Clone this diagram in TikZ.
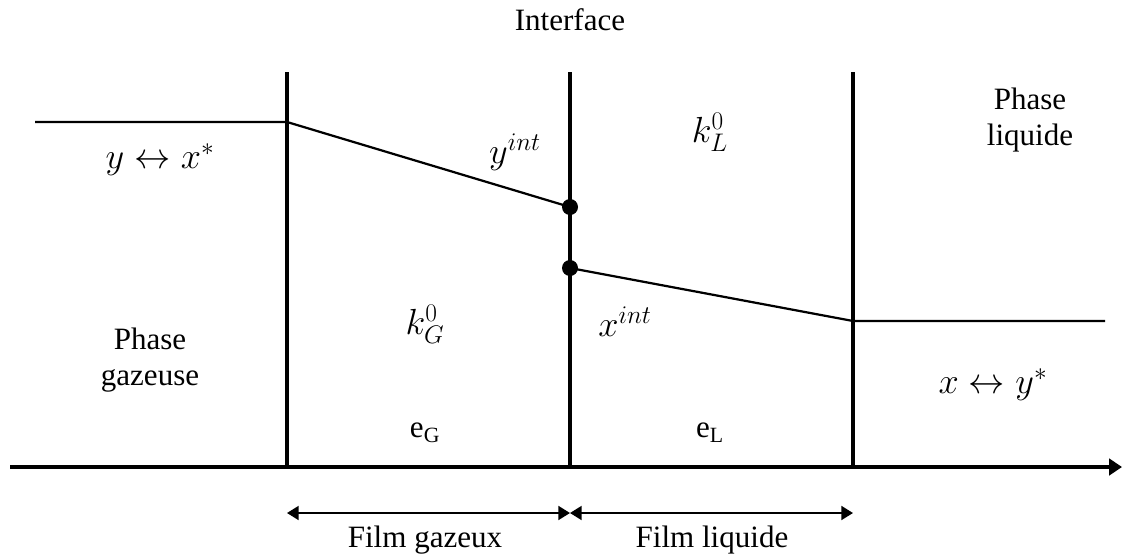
\documentclass[tikz,border=0pt]{standalone}
\usepackage{fix-cm}
\usepackage{fontspec}
\setmainfont{Liberation Serif}
\usetikzlibrary{arrows.meta}

\begin{document}
\begin{tikzpicture}[x=0.03cm,y=-0.03cm,
  font=\fontsize{26.5}{31}\selectfont,
  wall/.style={line width=3.4pt},
  prof/.style={line width=1.9pt},
  film/.style={line width=1.5pt,
    {Triangle[length=10pt,width=12pt]}-{Triangle[length=10pt,width=12pt]}},
  lbl/.style={inner sep=0pt, align=center},
  mth/.style={lbl, font=\fontsize{31}{36}\selectfont}]

\useasboundingbox (0,0) rectangle (1134,553);

% positions of the walls and axis
\def\xG{287}
\def\xI{570}
\def\xL{853}
\def\yax{467}
\def\ytop{72}

%---------------------------------------
% Axis and walls
%---------------------------------------
\coordinate (ax0) at (10,\yax);
\coordinate (ax1) at (1122,\yax);
\draw[wall, -{Triangle[length=11pt,width=14pt]}] (ax0) -- (ax1);

\foreach \x/\n in {\xG/G, \xI/I, \xL/L}{
  \coordinate (top\n) at (\x,\ytop);
  \coordinate (bot\n) at (\x,\yax);
  \draw[wall] (top\n) -- (bot\n);
}

%---------------------------------------
% Concentration profiles
%---------------------------------------
\coordinate (g0) at (35,122);
\coordinate (g1) at (\xG,122);
\coordinate (yint) at (\xI,207);
\coordinate (xint) at (\xI,268);
\coordinate (l1) at (\xL,321);
\coordinate (l0) at (1105,321);

\draw[prof] (g0) -- (g1) -- (yint);
\draw[prof] (xint) -- (l1) -- (l0);
\fill (yint) circle (8);
\fill (xint) circle (8);

%---------------------------------------
% Labels
%---------------------------------------
\node[lbl] (interface) at (\xI,20) {Interface};
\node[lbl] (liq) at (1030,120) {Phase\\liquide};
\node[lbl] (gaz) at (150,360) {Phase\\gazeuse};

\node[mth] (eqG) at (160,160) {$y \leftrightarrow x^{*}$};
\node[mth] (eqL) at (993,385) {$x \leftrightarrow y^{*}$};
\node[mth] (lyint) at (515,152) {$y^{int}$};
\node[mth] (lxint) at (625,322) {$x^{int}$};
\node[mth] (kL) at (710,132) {$k_L^0$};
\node[mth] (kG) at (425,324) {$k_G^0$};

\node[lbl] (eG) at (425,433) {e\textsubscript{G}};
\node[lbl] (eL) at (710,433) {e\textsubscript{L}};

%---------------------------------------
% Film thicknesses
%---------------------------------------
\coordinate (fG0) at (\xG,513);
\coordinate (fG1) at (\xI,513);
\coordinate (fL1) at (\xL,513);
\draw[film] (fG0) -- (fG1);
\draw[film] (fG1) -- (fL1);

\node[lbl] (filmG) at (425,540) {Film gazeux};
\node[lbl] (filmL) at (712,540) {Film liquide};

\end{tikzpicture}
\end{document}
